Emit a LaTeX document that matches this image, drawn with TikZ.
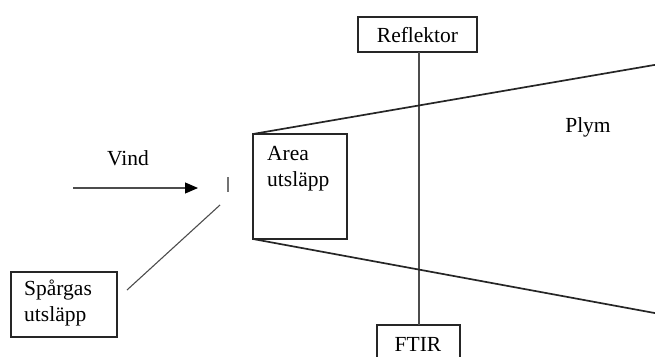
\documentclass[tikz,border=0pt]{standalone}
\usepackage{fontspec}
\setmainfont{Liberation Serif}
\usetikzlibrary{arrows.meta}
\begin{document}
\begin{tikzpicture}[x=1pt,y=-1pt,
  lbl/.style={font=\fontsize{21.5}{26}\selectfont, inner sep=0pt, align=left},
  boxed/.style={draw=black!85, line width=1.7pt},
  thin/.style={draw=black!70, line width=1.1pt}]
\useasboundingbox (0,0) rectangle (655,356);
% boxes
\draw[boxed] (358,17) rectangle (477,52);
\node[lbl] (refl) at (417.5,35) {Reflektor};
\coordinate (reflb) at (419,52);
\draw[boxed] (377,370) |- (460,325) -- (460,370);
\node[lbl] (ftir) at (418,344) {FTIR};
\coordinate (ftirt) at (419,325);
\draw[thin] (reflb) -- (ftirt);
\draw[boxed] (253,134) rectangle (347,239);
\node[lbl, anchor=north west] (area) at (267,146) {Area\\utsläpp};
\coordinate (atl) at (253,134);
\coordinate (abl) at (253,239);
\coordinate (ptop) at (660,64);
\coordinate (pbot) at (660,314);
\draw[boxed] (atl) -- (ptop);
\draw[boxed] (abl) -- (pbot);
\node[lbl] (plym) at (588,127) {Plym};
\node[lbl] (vind) at (128,158) {Vind};
\coordinate (w1) at (73,188);
\coordinate (w2) at (198,188);
\draw[thin, -{Triangle[length=13pt,width=11pt,fill=black,color=black]}] (w1) -- (w2);
\coordinate (t1) at (228,177);
\coordinate (t2) at (228,192);
\draw[draw=black!55, line width=1.1pt] (t1) -- (t2);
\draw[boxed] (11,272) rectangle (117,337);
\node[lbl, anchor=north west] (sp) at (24,280) {Spårgas\\utsläpp};
\coordinate (d1) at (220,205);
\coordinate (d2) at (127,290);
\draw[thin] (d1) -- (d2);
\end{tikzpicture}
\end{document}
